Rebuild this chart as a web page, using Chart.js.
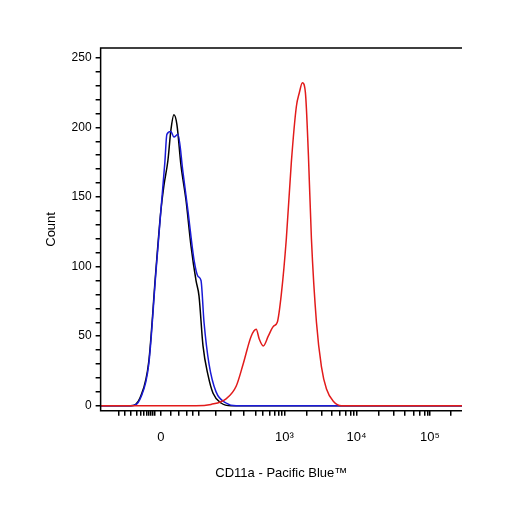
<!DOCTYPE html>
<html><head><script src="https://cdn.jsdelivr.net/npm/chart.js@4"></script>
<style>body{margin:0;background:#fff}#w{width:506px;height:506px}</style></head>
<body><div id="w"><canvas id="c"></canvas></div>
<script>
const blackX=[100,130,140,148,155,160,163,167,170,173,176,180,185,190,195,198,202,207,212,220,230,460];
const blackY=[0,0,7,32,97,140,158,176,198,209,202,173,148,115,90,79,43,22,9,2,0,0];
const blueX=[100,130,140,148,155,160,164,166,170,173,177,182,187,193,197,200,203,208,215,225,235,460];
const blueY=[0,0,6,30,95,140,175,195,197,193,195,168,140,105,93,90,60,30,10,2,0,0];
const redX=[100,195,210,225,235,242,250,255,258,262,267,272,276,280,285,290,295,298,301,304,307,310,315,320,325,332,340,460];
const redY=[0,0,1,5,14,30,50,55,48,43,50,57,60,80,120,175,215,225,232,225,180,120,60,28,12,3,0,0];
const majorTicks=[160,283,355,428];
const majorLabels=['0','10³','10⁴','10⁵'];
const minorTicks=[118,124,130,136,140,143,146,148,150,152,154,170,178,186,192,198,215,230,243,255,262,268,273,277,280,305,320,330,338,344,349,352,377,392,403,412,418,423,426,449];
const yTicks=[0,50,100,150,200,250];
const pts=(xs,ys)=>xs.map((x,i)=>({x,y:ys[i]}));
const frame={id:'frame',afterDraw(c){const a=c.chartArea,g=c.ctx;g.save();g.strokeStyle='#000';g.lineWidth=1.5;g.beginPath();g.moveTo(a.right,a.top);g.lineTo(a.left,a.top);g.lineTo(a.left,a.bottom);g.lineTo(a.right,a.bottom);g.stroke();g.restore();}};
new Chart(document.getElementById('c'),{type:'scatter',
data:{datasets:[
{data:pts(redX,redY),borderColor:'#e21b1b',showLine:true,pointRadius:0,borderWidth:1.5,cubicInterpolationMode:'monotone'},
{data:pts(blueX,blueY),borderColor:'#1a1ad6',showLine:true,pointRadius:0,borderWidth:1.5,cubicInterpolationMode:'monotone'},
{data:pts(blackX,blackY),borderColor:'#000',showLine:true,pointRadius:0,borderWidth:1.5,cubicInterpolationMode:'monotone'}]},
options:{responsive:true,maintainAspectRatio:false,animation:false,
layout:{padding:{left:40,right:44,top:48,bottom:21}},
plugins:{legend:{display:false},tooltip:{enabled:false}},
scales:{
x:{type:'linear',min:100,max:460,
 afterBuildTicks:s=>{s.ticks=[...majorTicks,...minorTicks].map(v=>({value:v}));},
 ticks:{autoSkip:false,maxRotation:0,padding:14,color:'#000',font:{family:'Liberation Sans',size:13},
  callback:v=>{const i=majorTicks.indexOf(v);return i>=0?majorLabels[i]:'';}},
 grid:{display:true,drawOnChartArea:false,tickLength:5,color:'#000',lineWidth:1.5},
 border:{display:false},
 title:{display:true,text:'CD11a - Pacific Blue™',color:'#000',font:{family:'Liberation Sans',size:13},padding:{top:6}}},
y:{type:'linear',min:-3.6,max:257,
 afterBuildTicks:s=>{const t=[];for(let v=0;v<=250;v+=10)t.push({value:v});s.ticks=t;},
 ticks:{autoSkip:false,color:'#000',font:{family:'Liberation Sans',size:12},padding:4,
  callback:v=>yTicks.includes(v)?String(v):''},
 grid:{display:true,drawOnChartArea:false,tickLength:5,color:'#000',lineWidth:1.5},
 border:{display:false},
 title:{display:true,text:'Count',color:'#000',font:{family:'Liberation Sans',size:13},padding:{bottom:8}}}}},
plugins:[frame]});
</script></body></html>
